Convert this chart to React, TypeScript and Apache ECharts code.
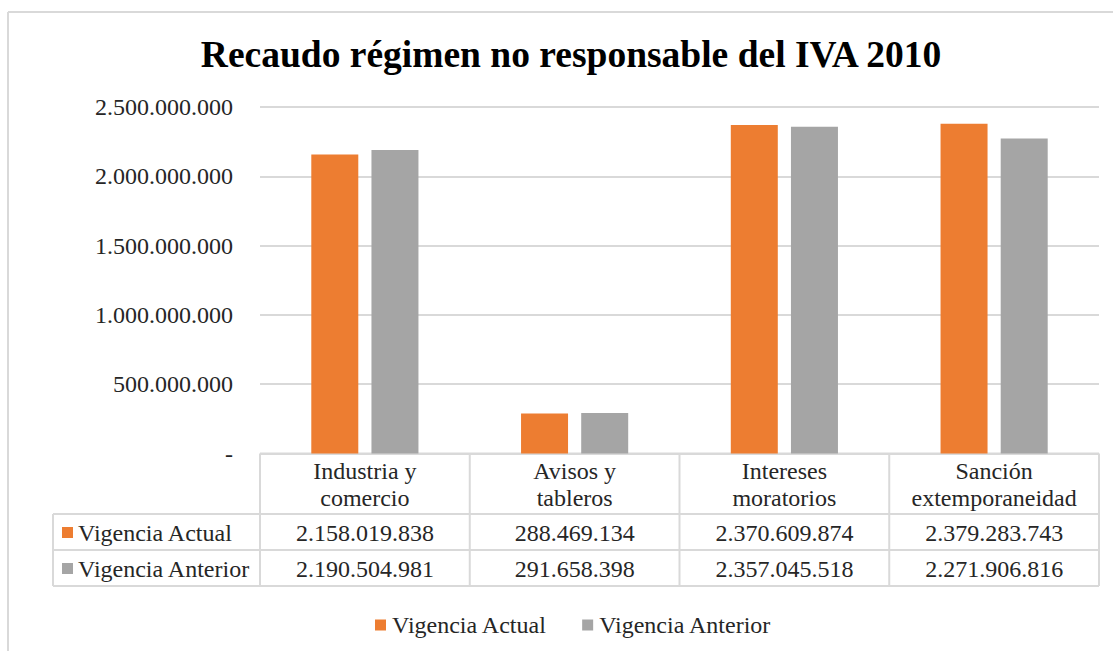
import React, { useEffect, useRef } from "react";
import * as echarts from "echarts";

const title = "Recaudo régimen no responsable del IVA 2010";
const categories = ["Industria y\ncomercio", "Avisos y\ntableros", "Intereses\nmoratorios", "Sanción\nextemporaneidad"];
const seriesNames = ["Vigencia Actual", "Vigencia Anterior"];
const vigenciaActual = [2158019838, 288469134, 2370609874, 2379283743];
const vigenciaAnterior = [2190504981, 291658398, 2357045518, 2271906816];
const yMin = 0;
const yMax = 2500000000;
const yInterval = 500000000;
const colors = ["#ED7D31", "#A5A5A5"];

const FONT = "'Liberation Serif', 'Times New Roman', serif";
const TEXT = "#262626";
const LINE = "#d9d9d9";

const fmt = (n: number) => String(Math.round(n)).replace(/\B(?=(\d{3})+(?!\d))/g, ".");

// layout
const W = 1113;
const H = 651;
const gridLeft = 260;
const gridRight = 1099;
const gridTop = 107;
const gridBottom = 453.5;
const labelLeft = 53;
const rowTops = [453.5, 514, 550, 586];

export default function App() {
  const ref = useRef<HTMLDivElement>(null);
  useEffect(() => {
    if (!ref.current) return;
    const chart = echarts.init(ref.current, null, { renderer: "svg" });
    const colW = (gridRight - gridLeft) / categories.length;
    const seriesData = [vigenciaActual, vigenciaAnterior];
    const graphics: any[] = [];
    // frame
    graphics.push({ type: "line", shape: { x1: 8, y1: 12, x2: W, y2: 12 }, style: { stroke: LINE, lineWidth: 2 } });
    graphics.push({ type: "line", shape: { x1: 8, y1: 12, x2: 8, y2: H }, style: { stroke: LINE, lineWidth: 2 } });
    // table horizontal lines
    graphics.push({ type: "line", shape: { x1: gridLeft, y1: rowTops[0], x2: gridRight, y2: rowTops[0] }, style: { stroke: LINE, lineWidth: 2 } });
    for (let r = 1; r < rowTops.length; r++) {
      graphics.push({ type: "line", shape: { x1: labelLeft, y1: rowTops[r], x2: gridRight, y2: rowTops[r] }, style: { stroke: LINE, lineWidth: 2 } });
    }
    // verticals
    graphics.push({ type: "line", shape: { x1: labelLeft, y1: rowTops[1], x2: labelLeft, y2: rowTops[3] }, style: { stroke: LINE, lineWidth: 2 } });
    for (let c = 0; c <= categories.length; c++) {
      const x = gridLeft + c * colW;
      graphics.push({ type: "line", shape: { x1: x, y1: rowTops[0], x2: x, y2: rowTops[3] }, style: { stroke: LINE, lineWidth: 2 } });
    }
    // header texts
    categories.forEach((cat, c) => {
      graphics.push({
        type: "text",
        x: gridLeft + (c + 0.5) * colW,
        y: (rowTops[0] + rowTops[1]) / 2 + 1,
        style: { text: cat, font: `24px ${FONT}`, fill: TEXT, align: "center", verticalAlign: "middle", lineHeight: 27 },
      });
    });
    // rows
    seriesNames.forEach((name, s) => {
      const cy = (rowTops[s + 1] + rowTops[s + 2]) / 2 + 1;
      graphics.push({ type: "rect", shape: { x: 62, y: cy - 6, width: 11, height: 11 }, style: { fill: colors[s] } });
      graphics.push({
        type: "text",
        x: 78,
        y: cy,
        style: { text: name, font: `24px ${FONT}`, fill: TEXT, align: "left", verticalAlign: "middle" },
      });
      seriesData[s].forEach((v, c) => {
        graphics.push({
          type: "text",
          x: gridLeft + (c + 0.5) * colW,
          y: cy,
          style: { text: fmt(v), font: `24px ${FONT}`, fill: TEXT, align: "center", verticalAlign: "middle" },
        });
      });
    });

    chart.setOption({
      animation: false,
      backgroundColor: "#ffffff",
      title: {
        text: title,
        left: 566,
        top: 30,
        textAlign: "center",
        textStyle: { fontFamily: FONT, fontSize: 37.5, fontWeight: "bold", color: "#000000" },
      },
      legend: {
        left: 370,
        top: 608,
        itemWidth: 11,
        itemHeight: 11,
        itemGap: 35,
        icon: "rect",
        data: seriesNames,
        textStyle: { fontFamily: FONT, fontSize: 24, color: TEXT, padding: [0, 0, 0, 1] },
      },
      grid: { left: gridLeft, right: W - gridRight, top: gridTop, bottom: H - gridBottom, containLabel: false },
      xAxis: {
        type: "category",
        data: categories,
        axisLine: { show: false },
        axisTick: { show: false },
        axisLabel: { show: false },
      },
      yAxis: {
        type: "value",
        min: yMin,
        max: yMax,
        interval: yInterval,
        axisLine: { show: false },
        axisTick: { show: false },
        splitLine: { lineStyle: { color: LINE, width: 2 } },
        axisLabel: {
          margin: 27,
          fontFamily: FONT,
          fontSize: 24,
          color: TEXT,
          formatter: (v: number) => (v === 0 ? "-" : fmt(v)),
        },
      },
      series: seriesNames.map((name, s) => ({
        name,
        type: "bar",
        data: seriesData[s],
        barWidth: 47,
        barGap: "28%",
        itemStyle: { color: colors[s] },
      })),
      graphic: graphics,
    });
    return () => chart.dispose();
  }, []);
  return <div ref={ref} style={{ position: "fixed", left: 0, top: 0, width: W, height: H }} />;
}
